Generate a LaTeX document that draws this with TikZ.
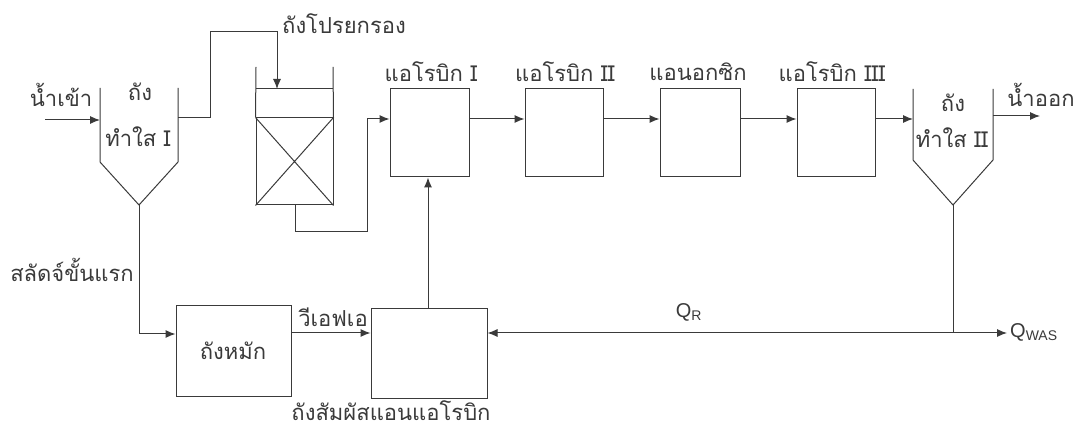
\documentclass[tikz,border=0pt]{standalone}
\usepackage{fontspec}
\newfontfamily\thai[Script=Thai]{Loma}
\newfontfamily\lsans{Liberation Sans}
\usetikzlibrary{arrows.meta,calc}
\definecolor{ln}{HTML}{3A3A3A}
\tikzset{
  ln/.style={draw=ln,line width=1pt},
  arr/.style={ln,-{Latex[length=10pt,width=8pt]}},
  tank/.style={ln,rectangle,inner sep=0pt},
  lbl/.style={inner sep=0pt,text=ln,font=\thai\fontsize{22}{24}\selectfont},
  qlbl/.style={inner sep=0pt,text=ln,font=\lsans\fontsize{20}{22}\selectfont}
}
\begin{document}
\begin{tikzpicture}[x=1pt,y=-1pt]
\useasboundingbox (0,0) rectangle (1079,430);
% boxes
\node[tank,minimum width=79pt,minimum height=88pt] (aer1) at (429.5,133) {};
\node[tank,minimum width=78pt,minimum height=88pt] (aer2) at (564,133) {};
\node[tank,minimum width=80pt,minimum height=88pt] (anox) at (700,133) {};
\node[tank,minimum width=78pt,minimum height=88pt] (aer3) at (836,133) {};
\node[tank,minimum width=115pt,minimum height=91pt] (ferm) at (233.5,351) {};
\node[tank,minimum width=116pt,minimum height=89pt] (cont) at (429,353.5) {};
% prefilter (trickling filter)
\node[tank,minimum width=77pt,minimum height=87pt] (pf) at (294.5,161.5) {};
\draw[ln] (pf.north west) -- (pf.south east) (pf.north east) -- (pf.south west);
\coordinate (pftl) at (256,67);
\coordinate (pftr) at (333,67);
\coordinate (pfliq) at (277,89);
\draw[ln] (pftl) -- (pf.north west) (pftr) -- (pf.north east);
\draw[ln] (256,89) -- (333,89);
% clarifier I
\coordinate (c1tl) at (100,88);
\coordinate (c1bl) at (100,162);
\coordinate (c1tr) at (178,88);
\coordinate (c1br) at (178,162);
\coordinate (c1tip) at (139,205);
\draw[ln] (c1tl) -- (c1bl) -- (c1tip) -- (c1br) -- (c1tr);
% clarifier II
\coordinate (c2tl) at (913,89);
\coordinate (c2bl) at (913,160);
\coordinate (c2tr) at (993,89);
\coordinate (c2br) at (993,160);
\coordinate (c2tip) at (953,205);
\draw[ln] (c2tl) -- (c2bl) -- (c2tip) -- (c2br) -- (c2tr);
% flows
\coordinate (in) at (45,120);
\draw[arr] (in) -- (100,120);
\draw[arr] (178,118) -- (210,118) -- (210,32) -- (277,32) -- (pfliq);
\draw[arr] (295,205) -- (295,232) -- (367,232) -- (367,119) -- (aer1.west |- 0,119);
\draw[arr] (aer1.east |- 0,119) -- (aer2.west |- 0,119);
\draw[arr] (aer2.east |- 0,119) -- (anox.west |- 0,119);
\draw[arr] (anox.east |- 0,119) -- (aer3.west |- 0,119);
\draw[arr] (aer3.east |- 0,119) -- (c2bl |- 0,119);
\coordinate (out) at (1040,116);
\draw[arr] (993,116) -- (out);
\coordinate (split) at (953,333);
\draw[ln] (c2tip) -- (split);
\draw[arr] (split) -- (cont.east |- split);
\coordinate (was) at (1007,333);
\draw[arr] (split) -- (was);
\draw[arr] (c1tip) -- (139,334) -- (ferm.west |- 0,334);
\draw[arr] (ferm.east |- 0,333) -- (cont.west |- 0,333);
\draw[arr] (cont.north -| 428,0) -- (aer1.south -| 428,0);
% labels
\node[lbl] (t1) at (61,95) {น้ำเข้า};
\node[lbl] (t2) at (140,92) {ถัง};
\node[lbl] (t3) at (138,137) {ทำใส I};
\node[lbl,anchor=west] (t4) at (282,24) {ถังโปรยกรอง};
\node[lbl] (t5) at (431,72) {แอโรบิก I};
\node[lbl] (t6) at (565,72) {แอโรบิก II};
\node[lbl] (t7) at (698,72) {แอนอกซิก};
\node[lbl] (t8) at (832,72) {แอโรบิก III};
\node[lbl] (t9) at (953,103) {ถัง};
\node[lbl] (t10) at (952,138) {ทำใส II};
\node[lbl] (t11) at (1041,95) {น้ำออก};
\node[lbl] (t12) at (72,270) {สลัดจ์ขั้นแรก};
\node[lbl] (t13) at (333,317) {วีเอฟเอ};
\node[lbl] (t14) at (233,351) {ถังหมัก};
\node[lbl] (t15) at (391,411) {ถังสัมผัสแอนแอโรบิก};
\node[qlbl] (t16) at (689,312) {Q\textsubscript{R}};
\node[qlbl,anchor=west] (t17) at (1010,332) {Q\textsubscript{WAS}};
\end{tikzpicture}
\end{document}
